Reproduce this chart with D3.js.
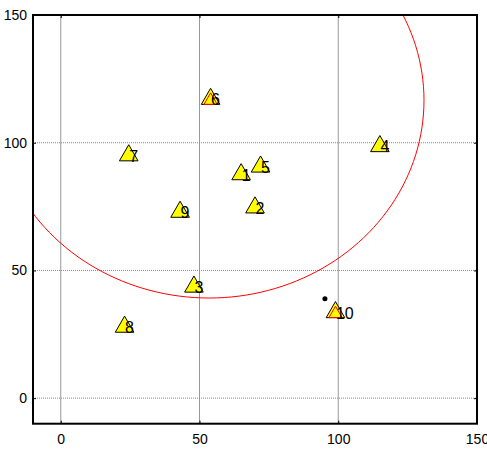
<!DOCTYPE html>
<html><head><meta charset="utf-8">
<script src="https://cdn.jsdelivr.net/npm/d3@7"></script>
<style>body{margin:0;background:#fff}svg{display:block}</style>
</head><body>
<script>
const labels = ["1","2","3","4","5","6","7","8","9","10"];
const xs = [65, 70, 48, 115, 72, 54, 24.5, 23, 43, 99];
const ys = [88, 75, 44, 99, 91, 117.5, 95.4, 28.3, 73.3, 34];
const highlighted = ["6","10"];
const dotX = [95.2];
const dotY = [38.9];
const circleCenter = [53.5, 116.6];
const circleRadius = 77.4;
const xTicks = [0, 50, 100, 150];
const yTicks = [0, 50, 100, 150];
const xDomain = [-10, 150];
const yDomain = [-10, 150];

const W = 487, H = 449;
const L = 33, R = 477, T = 15, B = 423.7;
const svg = d3.select("body").append("svg").attr("width", W).attr("height", H);
const x = d3.scaleLinear().domain(xDomain).range([L, R]);
const y = d3.scaleLinear().domain(yDomain).range([B, T]);

// grid
svg.append("g").selectAll("line").data(xTicks).join("line")
  .attr("x1", d => x(d)).attr("x2", d => x(d)).attr("y1", T).attr("y2", B)
  .attr("stroke", "#999").attr("stroke-width", 1);
svg.append("g").selectAll("line").data(yTicks).join("line")
  .attr("x1", L).attr("x2", R).attr("y1", d => y(d)).attr("y2", d => y(d))
  .attr("stroke", "#8a8a8a").attr("stroke-width", 1).attr("stroke-dasharray", "1,1");

// circle (data-space circle, drawn as path)
const circPts = d3.range(0, 361, 2).map(a => [
  circleCenter[0] + circleRadius * Math.cos(a * Math.PI / 180),
  circleCenter[1] + circleRadius * Math.sin(a * Math.PI / 180)]);
svg.append("defs").append("clipPath").attr("id", "clip")
  .append("rect").attr("x", L).attr("y", T).attr("width", R - L).attr("height", B - T);
svg.append("path").attr("clip-path", "url(#clip)")
  .attr("d", d3.line().x(d => x(d[0])).y(d => y(d[1]))(circPts))
  .attr("fill", "none").attr("stroke", "#ff0000").attr("stroke-width", 1);

// axes frame with inward ticks
const axB = d3.axisBottom(x).tickValues(xTicks).tickSize(-3).tickPadding(10);
const axT = d3.axisTop(x).tickValues(xTicks).tickSize(-3).tickFormat("");
const axL = d3.axisLeft(y).tickValues(yTicks).tickSize(-3).tickPadding(6);
const axR = d3.axisRight(y).tickValues(yTicks).tickSize(-3).tickFormat("");
function style(g){
  g.select(".domain").attr("stroke", "#000").attr("stroke-width", 2);
  g.selectAll(".tick line").attr("stroke", "#000");
  g.selectAll("text").attr("font-family", "Liberation Sans, Arial, sans-serif")
    .attr("font-size", 14).attr("fill", "#000");
}
svg.append("g").attr("transform", `translate(0,${B})`).call(axB).call(style);
svg.append("g").attr("transform", `translate(0,${T})`).call(axT).call(style);
svg.append("g").attr("transform", `translate(${L},0)`).call(axL).call(style);
svg.append("g").attr("transform", `translate(${R},0)`).call(axR).call(style);
svg.selectAll(".domain").attr("d", null);
svg.append("rect").attr("x", L).attr("y", T).attr("width", R - L).attr("height", B - T)
  .attr("fill", "none").attr("stroke", "#000").attr("stroke-width", 2);

// points
const pts = labels.map((l, i) => ({l, x: xs[i], y: ys[i]}));
const tri = d3.symbol().type(d3.symbolTriangle).size(150);
const g = svg.append("g");
g.selectAll("path.t").data(pts).join("path").attr("class", "t")
  .attr("d", tri).attr("transform", d => `translate(${x(d.x)},${y(d.y) + 1})`)
  .attr("fill", "#ffff00").attr("stroke", "#000").attr("stroke-width", 1);
const tri2 = d3.symbol().type(d3.symbolTriangle).size(75);
g.selectAll("path.h").data(pts.filter(d => highlighted.includes(d.l))).join("path").attr("class", "h")
  .attr("d", tri2).attr("transform", d => `translate(${x(d.x)},${y(d.y) + 2.5})`)
  .attr("fill", "#ffff00").attr("stroke", "#ff0000").attr("stroke-width", 1);
g.selectAll("text").data(pts).join("text")
  .attr("x", d => x(d.x) + 0.5).attr("y", d => y(d.y) + 3)
  .attr("dominant-baseline", "middle")
  .attr("font-family", "Liberation Sans, Arial, sans-serif").attr("font-size", 16)
  .attr("fill", "#000").text(d => d.l);

svg.append("g").selectAll("circle").data(dotX).join("circle")
  .attr("cx", (d, i) => x(d)).attr("cy", (d, i) => y(dotY[i])).attr("r", 2.5).attr("fill", "#000");
</script>
</body></html>
